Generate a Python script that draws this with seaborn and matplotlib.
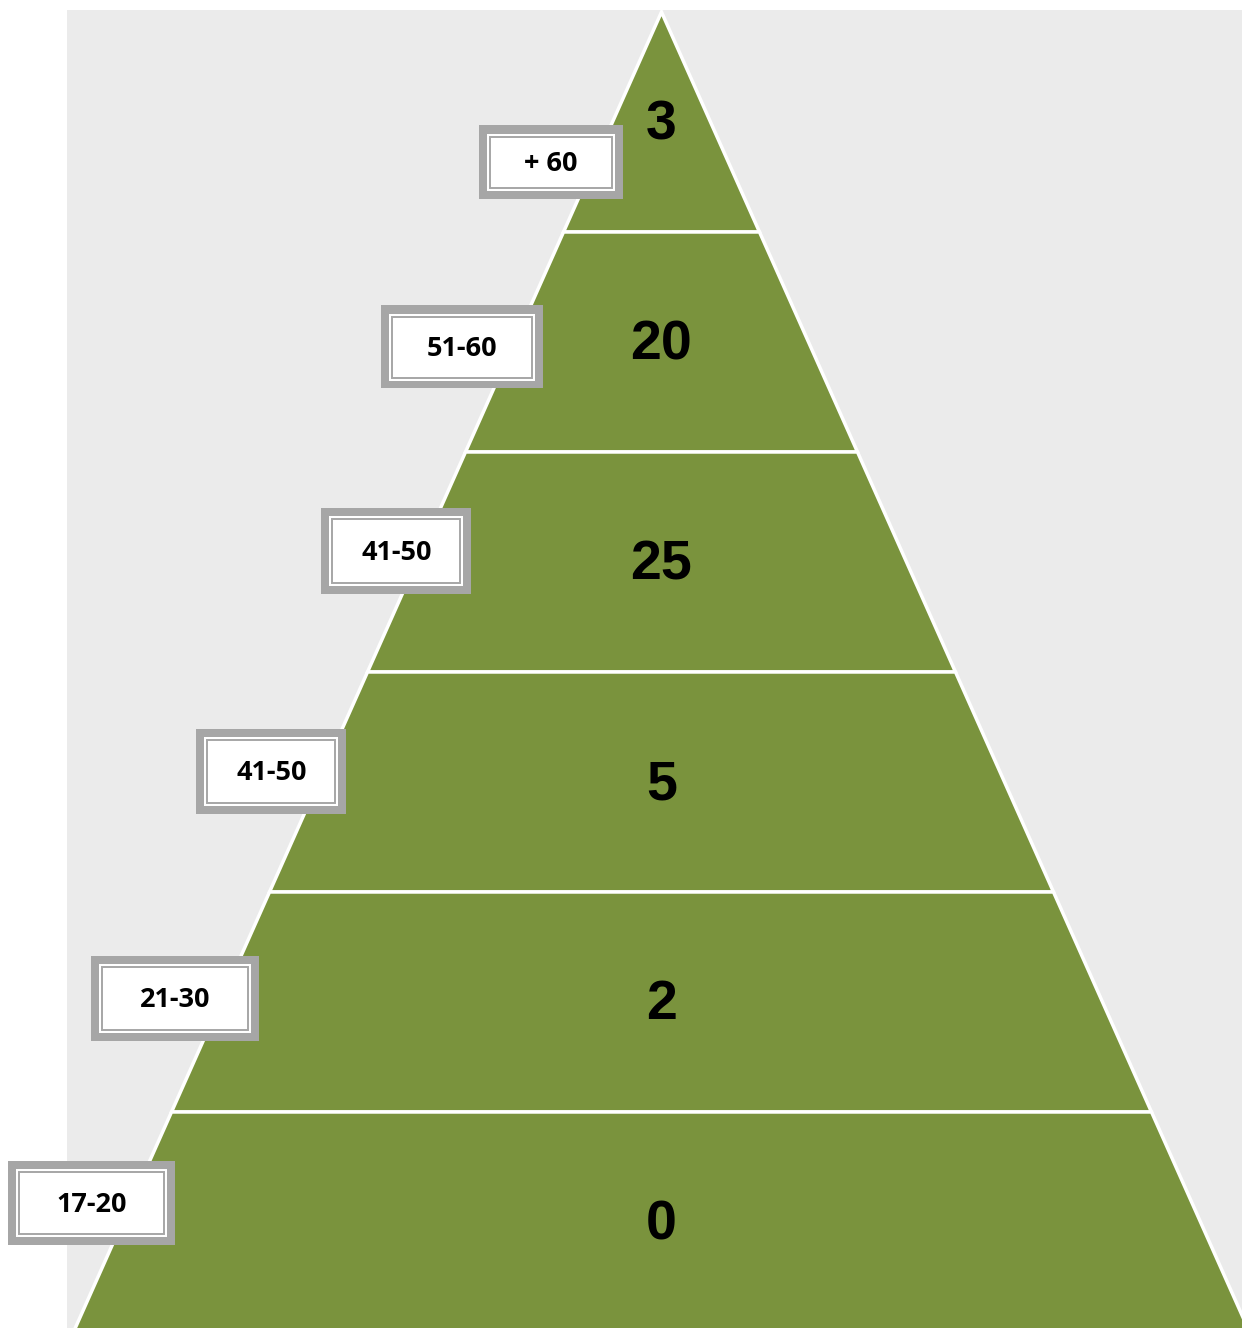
import matplotlib
matplotlib.use("Agg")
import matplotlib.pyplot as plt
from matplotlib.patches import Polygon, Rectangle
import seaborn as sns

# Tiers listed from the apex down to the base
age_groups = ["+ 60", "51-60", "41-50", "41-50", "21-30", "17-20"]
counts = [3, 20, 25, 5, 2, 0]

# Label box layout (pixels): shift of box centre from the tier centre, and box size
box_dy = [40, 5, -11, -11, -4, -19]
box_gap = [44, 50, 25, 52, 47, 39]
box_w = [144, 162, 150, 150, 168, 167]
box_h = [73, 83, 86, 85, 85, 84]

sns.set_theme(style="white", rc={"axes.facecolor": "#EBEBEB",
                                 "figure.facecolor": "white"})

GREEN = "#7A933D"
GREY = "#A6A6A6"

W, H, DPI = 1242, 1328, 100
fig = plt.figure(figsize=(W / DPI, H / DPI), dpi=DPI)
ax = fig.add_axes([67 / W, 0, (W - 67) / W, (H - 10) / H])

n = len(counts)
PX_X = 588.0   # pixels per x unit (half-width of the base = 1)
PX_Y = 220.0   # pixels per tier
CX = 661.5     # apex column in pixels
BASE = 1332.0  # base row in pixels
ax.set_xlim((67 - CX) / PX_X, (W - CX) / PX_X)
ax.set_ylim((BASE - H) / PX_Y, (BASE - 10) / PX_Y)
ax.set_xticks([])
ax.set_yticks([])
sns.despine(ax=ax, left=True, bottom=True)


def half_width(y):
    return (n - y) / n


for i, (grp, val) in enumerate(zip(age_groups, counts)):
    y0, y1 = n - 1 - i, n - i
    w0, w1 = half_width(y0), half_width(y1)
    if w1 > 0:
        pts = [(-w0, y0), (w0, y0), (w1, y1), (-w1, y1)]
    else:
        pts = [(-w0, y0), (w0, y0), (0, y1)]
    ax.add_patch(Polygon(pts, closed=True, facecolor=GREEN, edgecolor="white",
                         linewidth=2.5, joinstyle="miter", zorder=2))
    ymid = (y0 + y1) / 2
    ax.text(0, ymid - 3 / PX_Y, str(val), ha="center", va="center",
            fontsize=40, fontweight="bold",
            family=["Liberation Sans", "DejaVu Sans"],
            color="black", zorder=3)

    # age-group label box on the left flank of the tier
    by = ymid - box_dy[i] / PX_Y
    bx = -half_width(by) - box_gap[i] / PX_X
    bw, bh = box_w[i] / PX_X, box_h[i] / PX_Y
    ax.add_patch(Rectangle((bx - bw / 2, by - bh / 2), bw, bh, facecolor=GREY,
                           edgecolor="none", clip_on=False, zorder=5))
    ins = 8
    ax.add_patch(Rectangle((bx - bw / 2 + ins / PX_X, by - bh / 2 + ins / PX_Y),
                           bw - 2 * ins / PX_X, bh - 2 * ins / PX_Y,
                           facecolor="white", edgecolor="none",
                           clip_on=False, zorder=6))
    ins = 11
    ax.add_patch(Rectangle((bx - bw / 2 + ins / PX_X, by - bh / 2 + ins / PX_Y),
                           bw - 2 * ins / PX_X, bh - 2 * ins / PX_Y,
                           facecolor="none", edgecolor=GREY, linewidth=1.4,
                           clip_on=False, zorder=7))
    ax.text(bx, by - 2 / PX_Y, grp, ha="center", va="center", fontsize=19.5,
            fontweight="bold", family=["Open Sans", "DejaVu Sans"],
            color="black", zorder=8)

fig.savefig("out.png", dpi=DPI)
